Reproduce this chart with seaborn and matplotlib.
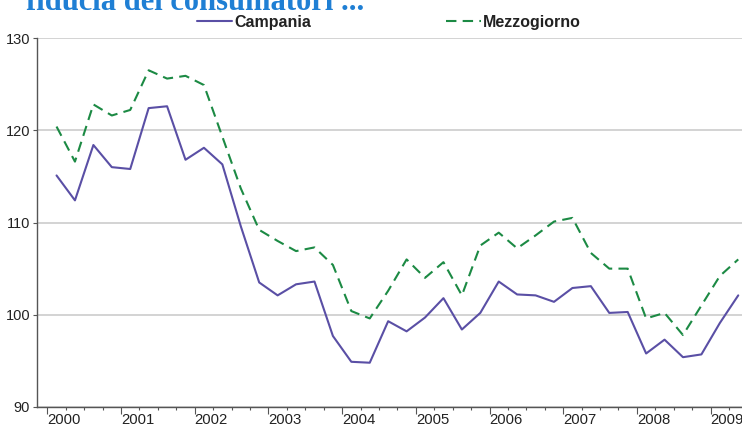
import numpy as np
import pandas as pd
import matplotlib
matplotlib.use("Agg")
import matplotlib.pyplot as plt
import seaborn as sns

# Dati trimestrali 2000 T1 - 2009 T2
anni = [2000, 2001, 2002, 2003, 2004, 2005, 2006, 2007, 2008, 2009]
campania = [115.1, 112.4, 118.4, 116.0, 115.8, 122.4, 122.6, 116.8,
            118.1, 116.3, 109.6, 103.5, 102.1, 103.3, 103.6, 97.7,
            94.9, 94.8, 99.3, 98.2, 99.7, 101.8, 98.4, 100.2,
            103.6, 102.2, 102.1, 101.4, 102.9, 103.1, 100.2, 100.3,
            95.8, 97.3, 95.4, 95.7, 99.1, 102.1]
mezzogiorno = [120.4, 116.6, 122.8, 121.6, 122.2, 126.5, 125.6, 125.9,
               124.9, 119.3, 113.7, 109.2, 108.0, 106.9, 107.3, 105.4,
               100.4, 99.6, 102.6, 106.0, 104.0, 105.7, 102.1, 107.5,
               108.9, 107.2, 108.6, 110.1, 110.5, 106.7, 105.0, 105.0,
               99.6, 100.2, 97.8, 101.0, 104.2, 106.0]
titolo = "fiducia dei consumatori ..."

# posizione al centro di ogni trimestre
trim = np.arange(len(campania))
t = 2000 + (trim + 0.5) / 4
df = pd.DataFrame({"t": t, "Campania": campania, "Mezzogiorno": mezzogiorno})

sns.set_style("white")
plt.rcParams['font.family'] = ['Liberation Sans', 'DejaVu Sans']

fig = plt.figure(figsize=(7.42, 4.28), dpi=100)
ax = fig.add_axes([37 / 742, 21 / 428, 705 / 742, 369 / 428])

sns.lineplot(data=df, x="t", y="Campania", ax=ax, color="#5a4fa5",
             linewidth=1.5, label="Campania")
sns.lineplot(data=df, x="t", y="Mezzogiorno", ax=ax, color="#1c8a44",
             linewidth=1.5, linestyle=(0, (5, 3)), label="Mezzogiorno")

ax.set_xlim(1999.86, 2009.426)
ax.set_ylim(90, 130)
ax.set_yticks([90, 100, 110, 120, 130])
ax.set_xticks(anni)
ax.set_xticklabels([str(a) for a in anni], ha="left")
ax.set_xticks(np.arange(2000, 2009.5, 0.25), minor=True)
ax.set_xlabel("")
ax.set_ylabel("")

ax.grid(axis="y", color="#c8c8c8", linewidth=1.1)
ax.grid(axis="x", visible=False)
for s in ["top", "right"]:
    ax.spines[s].set_visible(False)
for s in ["left", "bottom"]:
    ax.spines[s].set_color("#555555")
    ax.spines[s].set_linewidth(1.0)

ax.tick_params(axis="y", which="major", length=3, width=0.8, color="#555555",
               labelsize=10.5, pad=2, labelcolor="#222222", left=True)
ax.tick_params(axis="x", which="major", length=5, width=0.8, color="#555555",
               labelsize=10.7, pad=-1, labelcolor="#222222", bottom=True)
ax.tick_params(axis="x", which="minor", length=2.5, width=0.8,
               color="#555555", bottom=True)
for lab in ax.get_xticklabels():
    lab.set_horizontalalignment("left")

leg = ax.legend(loc="center left", bbox_to_anchor=(197 / 742, 1 - 22.5 / 428),
                bbox_transform=fig.transFigure, ncol=2, frameon=False,
                borderpad=0, borderaxespad=0, handlelength=2.2,
                handletextpad=0.15, columnspacing=8.4,
                prop={"weight": "bold", "size": 11.5})
for txt in leg.get_texts():
    txt.set_color("#222222")

fig.text(26 / 742, 1 - 10 / 428, titolo, family="Liberation Serif",
         weight="bold", fontsize=22, color="#1f7fd4", va="baseline",
         ha="left")

fig.savefig("out.png", dpi=100)
